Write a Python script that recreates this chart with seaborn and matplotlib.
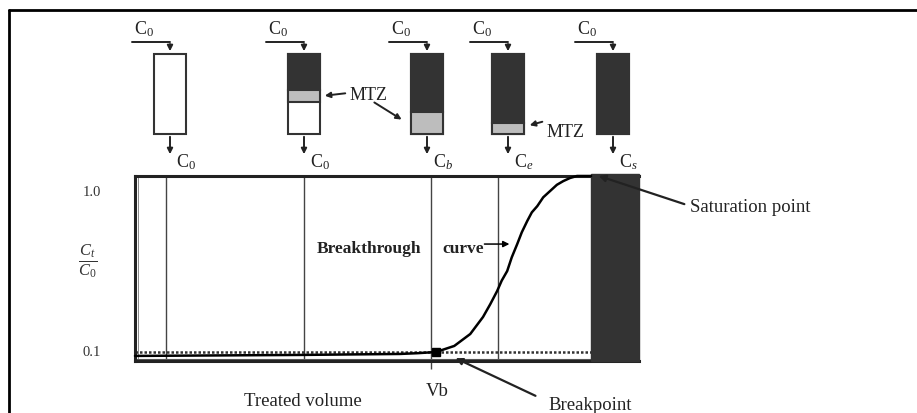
import matplotlib
matplotlib.use("Agg")
import matplotlib.pyplot as plt
from matplotlib.patches import Rectangle
import seaborn as sns
import pandas as pd

# ---------------- data ----------------
treated_volume = [0, 36, 58, 62, 66, 70, 73.5, 76.3, 77.9, 79.4, 80.4, 81.6, 82.6, 83.8,
                  84.8, 86.0, 87.0, 88.2, 89.5, 91.0, 92.5, 93.9, 95.4, 96.9, 100]
c_ratio = [0.080, 0.085, 0.090, 0.094, 0.100, 0.131, 0.192, 0.279, 0.345, 0.412, 0.465,
           0.514, 0.584, 0.652, 0.712, 0.770, 0.814, 0.846, 0.891, 0.923, 0.955, 0.974,
           0.990, 1.000, 1.000]
stage_volumes = [6.8, 37.1, 64.9, 79.6]          # vertical lines (Vb = 64.9)
breakpoint_volume = 66
breakpoint_ratio = 0.1
saturation_volume = 100
saturated_fraction = [0.0, 0.45, 0.725, 0.8625, 1.0]   # dark part of column
mtz_fraction = [0.0, 0.15, 0.275, 0.1375, 0.0]         # mass transfer zone
outlet_labels = ["C$_0$", "C$_0$", "C$_b$", "C$_e$", "C$_s$"]
ytick_values = [1.0, 0.1]
ytick_labels = ["1.0", "0.1"]

sns.set_theme(style="white")
plt.rcParams["font.family"] = ["Liberation Serif", "DejaVu Serif"]
plt.rcParams["mathtext.fontset"] = "custom"
plt.rcParams["mathtext.rm"] = "Liberation Serif"
plt.rcParams["mathtext.it"] = "Liberation Serif:italic"
plt.rcParams["mathtext.bf"] = "Liberation Serif:bold"

W, H = 917, 414
fig = plt.figure(figsize=(W / 100, H / 100), dpi=100)
fig.patch.set_facecolor("white")

def fx(px):
    return px / W

def fy(py):
    return 1 - py / H

# ---------------- main breakthrough panel ----------------
ax = fig.add_axes([fx(135), fy(362), fx(639) - fx(135), fy(177) - fy(362)])
ax.set_xlim(0, 110.5)
ax.set_ylim(0.054, 1.0)
ax.set_facecolor("white")
for side in ["left", "top", "bottom"]:
    ax.spines[side].set_linewidth(2.2)
    ax.spines[side].set_color("#222222")
ax.spines["right"].set_visible(False)
ax.set_xticks([])
ax.set_yticks([])

# saturated column bar
ax.bar([saturation_volume + 5.25], [1.01 - 0.054], bottom=0.054, width=10.5,
       color="#333333", edgecolor="#333333", clip_on=False, zorder=3)

# stage lines
for i, v in enumerate(stage_volumes):
    bottom = 0.013 if i == 2 else 0.054
    ax.vlines(v, bottom, 1.0, color="#444444", lw=1.0, clip_on=False, zorder=2)
ax.vlines(0.7, 0.054, 1.0, color="#777777", lw=0.6, zorder=2)

# 0.1 dashed level
ax.hlines(0.1, 0, saturation_volume, color="#333333", lw=1.8,
          linestyles=(0, (1.0, 0.8)), zorder=2)
ax.hlines(0.063, 0, saturation_volume, color="#555555", lw=0.8, zorder=2)

df = pd.DataFrame({"volume": treated_volume, "ratio": c_ratio})
sns.lineplot(data=df, x="volume", y="ratio", ax=ax, color="black", lw=1.8,
             zorder=4, clip_on=False)
ax.plot([breakpoint_volume], [breakpoint_ratio], marker="s", color="black",
        ms=6, zorder=5)
ax.set_xlabel("")
ax.set_ylabel("")

ax.text(39.8, 0.632, "Breakthrough", fontsize=12.5, fontweight="bold",
        ha="left", va="center", color="#222222")
ax.text(67.3, 0.632, "curve", fontsize=12.5, fontweight="bold",
        ha="left", va="center", color="#222222")
ax.annotate("", xy=(82.7, 0.652), xytext=(76.0, 0.652),
            arrowprops=dict(arrowstyle="-|>", color="black", lw=1.1,
                            mutation_scale=9))

# ---------------- overlay for schematic ----------------
ov = fig.add_axes([0, 0, 1, 1])
ov.set_xlim(0, W)
ov.set_ylim(H, 0)
ov.axis("off")
ov.patch.set_alpha(0)

# outer frame (left and top only)
ov.plot([9, 9], [414, 11], color="black", lw=2.0)
ov.plot([9, 917], [11, 11], color="black", lw=2.0)

col_centers = [170, 304, 427, 508, 613]
col_w, col_top, col_bot = 32, 55, 135
col_h = col_bot - col_top
for c, sf, mf, lab in zip(col_centers, saturated_fraction, mtz_fraction, outlet_labels):
    left = c - col_w / 2
    ov.add_patch(Rectangle((left, col_top), col_w, col_h, facecolor="white",
                           edgecolor="#333333", lw=1.5, zorder=2))
    if sf > 0:
        ov.add_patch(Rectangle((left, col_top), col_w, col_h * sf,
                               facecolor="#333333", edgecolor="#333333", lw=1.5, zorder=3))
    if mf > 0:
        ov.add_patch(Rectangle((left, col_top + col_h * sf), col_w, col_h * mf,
                               facecolor="#bdbdbd", edgecolor="#333333", lw=1.5, zorder=3))
    # inlet
    ov.plot([c - 38, c], [43, 43], color="#222222", lw=1.4)
    ov.annotate("", xy=(c, col_top), xytext=(c, 42.3),
                arrowprops=dict(arrowstyle="-|>", color="#222222", lw=1.4,
                                mutation_scale=8))
    ov.text(c - 36, 29, "C$_0$", fontsize=13, ha="left", va="center", color="#222222")
    # outlet
    ov.annotate("", xy=(c, 158), xytext=(c, col_bot),
                arrowprops=dict(arrowstyle="-|>", color="#222222", lw=1.4,
                                mutation_scale=8))
    ov.text(c + 6, 162, lab, fontsize=13, ha="left", va="center", color="#222222")

# MTZ labels
ov.text(350, 96, "MTZ", fontsize=13, ha="left", va="center", color="#222222")
ov.annotate("", xy=(322, 97), xytext=(348, 94),
            arrowprops=dict(arrowstyle="-|>", color="#222222", lw=1.4, mutation_scale=8))
ov.annotate("", xy=(404, 122), xytext=(372, 102),
            arrowprops=dict(arrowstyle="-|>", color="#222222", lw=1.4, mutation_scale=8))
ov.text(547, 133, "MTZ", fontsize=13, ha="left", va="center", color="#222222")
ov.annotate("", xy=(527, 127), xytext=(545, 122),
            arrowprops=dict(arrowstyle="-|>", color="#222222", lw=1.4, mutation_scale=8))

# y labels
for v, t in zip(ytick_values, ytick_labels):
    py = 193 if v == 1.0 else 353
    ov.text(92, py, t, fontsize=10.5, ha="center", va="center", color="#333333")
ov.text(88, 261, r"$\frac{C_t}{C_0}$", fontsize=17, ha="center", va="center",
        color="#333333")

ov.text(303, 402, "Treated volume", fontsize=13.5, ha="center", va="center",
        color="#222222")
ov.text(437, 392, "Vb", fontsize=13.5, ha="center", va="center", color="#222222")

# breakpoint and saturation annotations
ov.text(548, 406, "Breakpoint", fontsize=13.5, ha="left", va="center", color="#222222")
ov.annotate("", xy=(453, 358), xytext=(538, 398),
            arrowprops=dict(arrowstyle="-|>", color="#222222", lw=1.6, mutation_scale=10))
ov.text(690, 208, "Saturation point", fontsize=13.5, ha="left", va="center",
        color="#222222")
ov.annotate("", xy=(596, 176), xytext=(687, 206),
            arrowprops=dict(arrowstyle="-|>", color="#222222", lw=1.6, mutation_scale=10))

fig.savefig("out.png", dpi=100)
